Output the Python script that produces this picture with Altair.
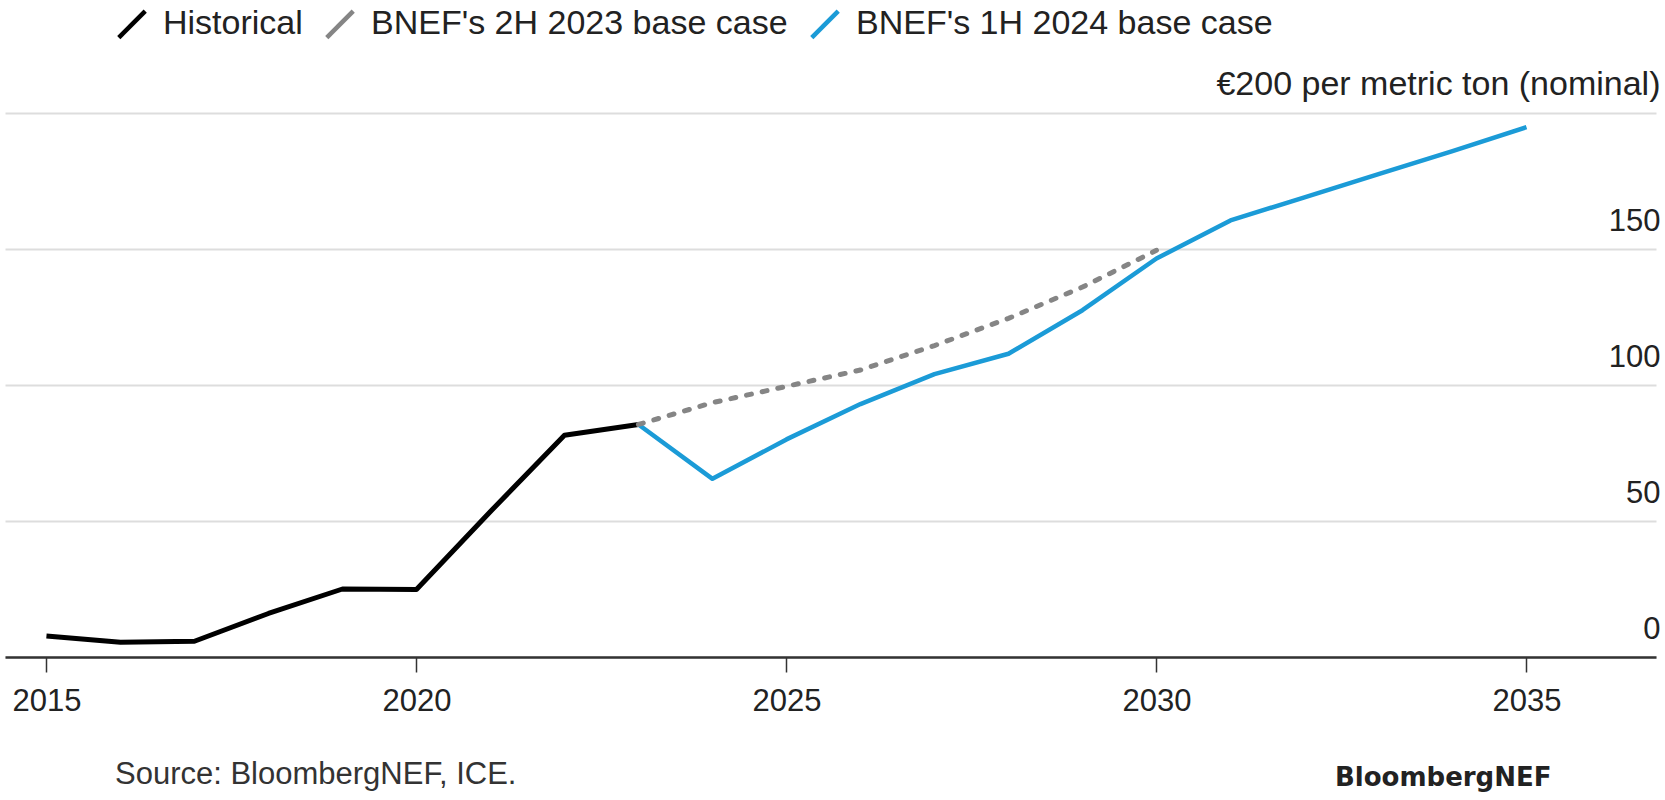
import altair as alt
import pandas as pd

# ---- data ----
hist_years = list(range(2015, 2024))
hist_values = [7.7, 5.4, 5.8, 16.0, 25.0, 24.8, 53.5, 81.5, 85.5]

case2h_years = list(range(2023, 2031))
case2h_values = [85.5, 93.5, 99.5, 105.5, 114.5, 124.5, 136.0, 149.5]

case1h_years = list(range(2023, 2036))
case1h_values = [85.5, 65.5, 80.0, 93.0, 104.0, 111.5, 127.5, 146.5,
                 160.5, 169.0, 177.5, 186.0, 194.8]

series_names = ["Historical", "BNEF's 2H 2023 base case", "BNEF's 1H 2024 base case"]
series_colors = ["#000000", "#858585", "#1b9bd7"]

x_ticks = [2015, 2020, 2025, 2030, 2035]
y_ticks = [0, 50, 100, 150, 200]
unit_label = "€200 per metric ton (nominal)"
source_text = "Source: BloombergNEF, ICE."
brand_text = "BloombergNEF"

FONT = "Liberation Sans"

hist_df = pd.DataFrame({"year": hist_years, "value": hist_values, "series": series_names[0]})
c2h_df = pd.DataFrame({"year": case2h_years, "value": case2h_values, "series": series_names[1]})
c1h_df = pd.DataFrame({"year": case1h_years, "value": case1h_values, "series": series_names[2]})

x_enc = alt.X(
    "year:Q",
    scale=alt.Scale(domain=[2014.44, 2036.75], nice=False, zero=False),
    axis=alt.Axis(
        values=x_ticks, format="d", title=None, grid=False,
        domainColor="#333333", domainWidth=2.5,
        tickColor="#333333", tickWidth=1.5, tickSize=15,
        labelFontSize=31, labelFont=FONT, labelColor="#222222",
        labelPadding=14, zindex=1,
    ),
)
y_enc = alt.Y(
    "value:Q",
    scale=alt.Scale(domain=[0, 200], nice=False),
    axis=alt.Axis(
        orient="right", values=y_ticks, title=None,
        grid=True, gridColor="#dddddd", gridWidth=2,
        domain=False, ticks=False,
        labelAlign="right", labelBaseline="alphabetic", labelOffset=-19,
        labelPadding=4, labelFont=FONT, labelColor="#222222",
        labelFontSize={"condition": {"test": "datum.value == 200", "value": 34}, "value": 31},
        labelLimit=800,
        labelExpr=f"datum.value == 200 ? '{unit_label}' : datum.label",
    ),
)
color_enc = alt.Color(
    "series:N",
    scale=alt.Scale(domain=series_names, range=series_colors),
    legend=alt.Legend(title=None),
)

hist_line = alt.Chart(hist_df).mark_line(strokeWidth=5, strokeJoin="round").encode(
    x=x_enc, y=y_enc, color=color_enc
)
c1h_line = alt.Chart(c1h_df).mark_line(strokeWidth=4.5, strokeJoin="round").encode(
    x=x_enc, y=y_enc, color=color_enc
)
c2h_line = alt.Chart(c2h_df).mark_line(
    strokeWidth=5, strokeDash=[5, 11], strokeCap="round"
).encode(x=x_enc, y=y_enc, color=color_enc)

source = alt.Chart(pd.DataFrame({"t": [source_text]})).mark_text(
    align="left", baseline="alphabetic", fontSize=31, font=FONT, color="#333333"
).encode(x=alt.value(110), y=alt.value(671), text="t:N")

brand = alt.Chart(pd.DataFrame({"t": [brand_text]})).mark_text(
    align="left", baseline="alphabetic", fontSize=26, font="DejaVu Sans",
    fontWeight="bold", color="#222222"
).encode(x=alt.value(1330), y=alt.value(673), text="t:N")

chart = alt.layer(hist_line, c1h_line, c2h_line, source, brand).properties(
    width=1651,
    height=544,
    padding={"left": 5, "top": 113, "right": 9, "bottom": 143},
    autosize=alt.AutoSizeParams(type="none"),
    background="white",
).configure_view(stroke=None).configure_legend(
    orient="none",
    legendX=110,
    legendY=-106,
    direction="horizontal",
    symbolType="M-1,1L1,-1",
    symbolSize=700,
    symbolStrokeWidth=4.5,
    labelFontSize=34,
    labelFont=FONT,
    labelColor="#222222",
    labelLimit=700,
    labelOffset=14,
    columnPadding=14,
)

chart.save("out.html", embed_options={"renderer": "svg", "actions": False})
